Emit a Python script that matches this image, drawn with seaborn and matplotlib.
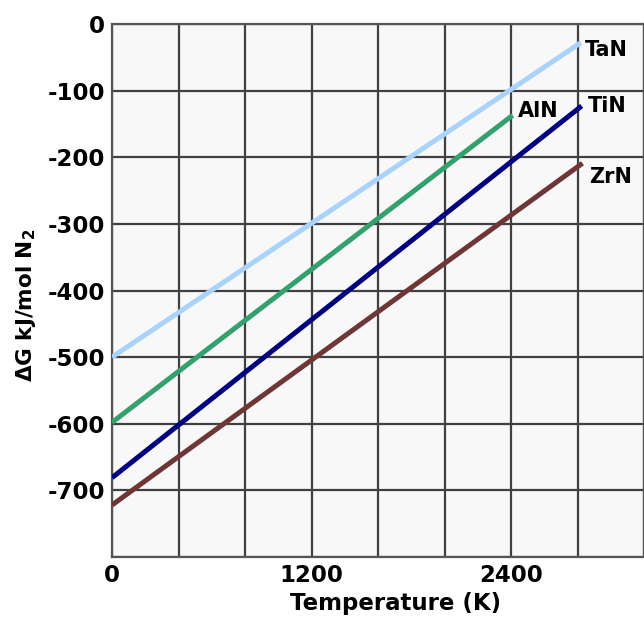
"""
Free energy of formation of nitrides vs temperature.
"""

import matplotlib
matplotlib.use("Agg")
import matplotlib.pyplot as plt
import pandas as pd
import seaborn as sns

# Data (line endpoints)
compounds = ["TaN", "AlN", "TiN", "ZrN"]
temp_start = [0, 0, 0, 0]
temp_end = [2820, 2410, 2825, 2830]
dg_start = [-500, -598, -681, -722]
dg_end = [-28, -137, -123, -209]
line_colors = ["#a9d3fb", "#33a06e", "#00007f", "#6e3636"]

# label anchor points (data coords)
label_x = [2845, 2442, 2863, 2869]
label_y = [-39, -131, -123, -230]

y_ticks = [0, -100, -200, -300, -400, -500, -600, -700, -800]
y_tick_labels = ["0", "-100", "-200", "-300", "-400", "-500", "-600", "-700", ""]
x_ticks = [0, 400, 800, 1200, 1600, 2000, 2400, 2800, 3200]
x_tick_labels = ["0", "", "", "1200", "", "", "2400", "", ""]

rows = []
for name, t0, t1, g0, g1 in zip(compounds, temp_start, temp_end, dg_start, dg_end):
    rows.append({"Compound": name, "T": t0, "dG": g0})
    rows.append({"Compound": name, "T": t1, "dG": g1})
df = pd.DataFrame(rows)

sns.set_style("white")
plt.rcParams["font.family"] = ["DejaVu Sans"]
plt.rcParams["font.weight"] = "bold"
plt.rcParams["text.color"] = "black"
plt.rcParams["axes.labelcolor"] = "black"
plt.rcParams["xtick.color"] = "black"
plt.rcParams["ytick.color"] = "black"

fig = plt.figure(figsize=(6.44, 6.17), dpi=100)
ax = fig.add_axes([112 / 644, 60 / 617, 532 / 644, 533 / 617])
ax.set_facecolor("#f8f8f8")

for x in x_ticks:
    ax.axvline(x, color="#404040", lw=1.6, zorder=1)
for y in y_ticks:
    ax.axhline(y, color="#404040", lw=1.6, zorder=1)

sns.lineplot(
    data=df,
    x="T",
    y="dG",
    hue="Compound",
    palette=dict(zip(compounds, line_colors)),
    lw=3.6,
    legend=False,
    ax=ax,
    zorder=3,
    solid_capstyle="butt",
)

for name, lx, ly in zip(compounds, label_x, label_y):
    ax.text(lx, ly, name, fontsize=15, fontweight="bold", va="center", ha="left")

ax.set_xlim(0, 3200)
ax.set_ylim(-800, 0)
ax.set_xticks(x_ticks)
ax.set_xticklabels(x_tick_labels)
ax.set_yticks(y_ticks)
ax.set_yticklabels(y_tick_labels)
ax.tick_params(length=0, labelsize=16.5, pad=5)
for lab in ax.get_xticklabels() + ax.get_yticklabels():
    lab.set_fontweight("bold")

for sp in ax.spines.values():
    sp.set_color("#555555")
    sp.set_linewidth(1.6)

ax.set_xlabel("Temperature (K)", fontsize=16.5, fontweight="bold")
ax.xaxis.set_label_coords((396 - 112) / 532, -0.066)
ax.set_ylabel(r"$\Delta$G kJ/mol N$_\mathbf{2}$", fontsize=15.5, fontweight="bold")
ax.yaxis.set_label_coords(-0.14, (557 - 305) / 533)

fig.savefig("out.png", dpi=100)
